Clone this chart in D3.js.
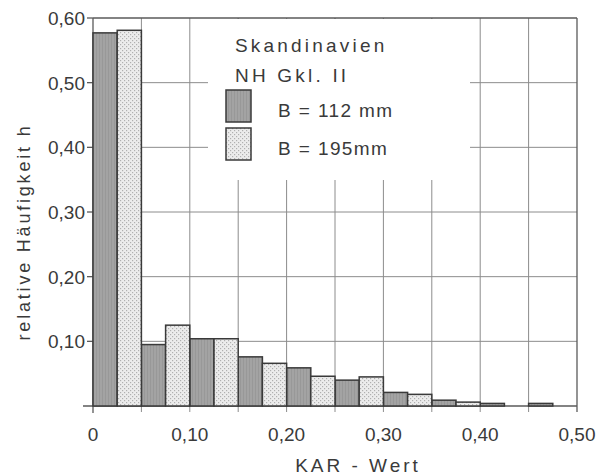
<!DOCTYPE html>
<html>
<head>
<meta charset="utf-8">
<script src="https://cdn.jsdelivr.net/npm/d3@7"></script>
<style>
  body { margin: 0; background: #fff; }
  svg text { font-family: "Liberation Sans", "DejaVu Sans", sans-serif; fill: #3a3a3a; }
</style>
</head>
<body>
<div id="chart"></div>
<script>
// KAR-Wert Klassen (untere Grenze), Breite 0,05
const bins = [0, 0.05, 0.10, 0.15, 0.20, 0.25, 0.30, 0.35, 0.40, 0.45];
const seriesB112 = [0.577, 0.095, 0.104, 0.076, 0.059, 0.040, 0.021, 0.009, 0.004, 0.004];
const seriesB195 = [0.581, 0.125, 0.104, 0.066, 0.046, 0.045, 0.018, 0.006, 0.0, 0.0];
const xTicks = [0, 0.10, 0.20, 0.30, 0.40, 0.50];
const yTicks = [0.10, 0.20, 0.30, 0.40, 0.50, 0.60];
const legendTitle = ["Skandinavien", "NH Gkl. II"];
const legendItems = ["B = 112 mm", "B = 195mm"];

const binWidth = 0.05;
const fmt = v => v === 0 ? "0" : d3.format(".2f")(v).replace(".", ",");

const width = 605, height = 476;
const svg = d3.select("#chart").append("svg")
    .attr("width", width)
    .attr("height", height);

const x = d3.scaleLinear().domain([0, 0.5]).range([93, 577]);
const y = d3.scaleLinear().domain([0, 0.6]).range([406, 18]);

// Muster für die Balken
const defs = svg.append("defs");
const hatch = defs.append("pattern")
    .attr("id", "hatch").attr("patternUnits", "userSpaceOnUse")
    .attr("width", 3).attr("height", 6);
hatch.append("rect").attr("width", 3).attr("height", 6).attr("fill", "#a3a3a3");
hatch.append("line").attr("x1", 0.5).attr("x2", 0.5).attr("y1", 0).attr("y2", 6)
    .attr("stroke", "#989898").attr("stroke-width", 1);

const dots = defs.append("pattern")
    .attr("id", "dots").attr("patternUnits", "userSpaceOnUse")
    .attr("width", 4).attr("height", 4);
dots.append("rect").attr("width", 4).attr("height", 4).attr("fill", "#ececec");
dots.append("rect").attr("x", 0).attr("y", 0).attr("width", 1.2).attr("height", 1.2).attr("fill", "#b0b0b0");
dots.append("rect").attr("x", 2).attr("y", 2).attr("width", 1.2).attr("height", 1.2).attr("fill", "#b0b0b0");

// Gitter
const grid = svg.append("g").attr("stroke", "#8c8c8c").attr("stroke-width", 1);
const vGrid = d3.range(1, 10).map(i => i * binWidth);
grid.selectAll("line.v").data(vGrid).join("line")
    .attr("class", "v")
    .attr("x1", d => x(d)).attr("x2", d => x(d))
    .attr("y1", y(0.6)).attr("y2", y(0) + 6);
grid.selectAll("line.h").data(yTicks.slice(0, -1)).join("line")
    .attr("class", "h")
    .attr("x1", x(0)).attr("x2", x(0.5))
    .attr("y1", d => y(d)).attr("y2", d => y(d));

// Legendenbereich freistellen
svg.append("rect")
    .attr("x", 208).attr("y", y(0.6) + 1)
    .attr("width", 262).attr("height", 161)
    .attr("fill", "#fff");

// kleine Striche am oberen Rand
grid.append("g").selectAll("line").data(vGrid.filter(d => x(d) > 208 && x(d) < 470)).join("line")
    .attr("x1", d => x(d)).attr("x2", d => x(d))
    .attr("y1", y(0.6)).attr("y2", y(0.6) + 6);

// Rahmen
const frame = svg.append("g").attr("stroke", "#5a5a5a").attr("stroke-width", 1.3).attr("fill", "none");
frame.append("line").attr("x1", x(0)).attr("x2", x(0.5)).attr("y1", y(0.6)).attr("y2", y(0.6));
frame.append("line").attr("x1", x(0.5)).attr("x2", x(0.5)).attr("y1", y(0.6)).attr("y2", y(0) + 6);
frame.append("line").attr("x1", x(0)).attr("x2", x(0)).attr("y1", y(0.6)).attr("y2", y(0) + 7);
frame.append("line").attr("x1", x(0) - 10).attr("x2", x(0.5)).attr("y1", y(0)).attr("y2", y(0));
frame.selectAll("line.yt").data(yTicks).join("line")
    .attr("class", "yt")
    .attr("x1", x(0) - 6).attr("x2", x(0))
    .attr("y1", d => y(d)).attr("y2", d => y(d));

// Balken
const half = binWidth / 2;
const bars = svg.append("g").attr("stroke", "#3a3a3a").attr("stroke-width", 1.5);
bars.selectAll("rect.b112").data(bins).join("rect")
    .attr("class", "b112")
    .attr("x", d => x(d))
    .attr("width", x(half) - x(0))
    .attr("y", (d, i) => y(seriesB112[i]))
    .attr("height", (d, i) => y(0) - y(seriesB112[i]))
    .attr("fill", "url(#hatch)");
bars.selectAll("rect.b195").data(bins.filter((d, i) => seriesB195[i] > 0)).join("rect")
    .attr("class", "b195")
    .attr("x", d => x(d + half))
    .attr("width", x(half) - x(0))
    .attr("y", d => y(seriesB195[bins.indexOf(d)]))
    .attr("height", d => y(0) - y(seriesB195[bins.indexOf(d)]))
    .attr("fill", "url(#dots)");

// Achsenbeschriftung
svg.append("g").selectAll("text").data(xTicks).join("text")
    .attr("x", d => x(d))
    .attr("y", 441)
    .attr("text-anchor", "middle")
    .style("font-size", "19px")
    .text(fmt);
svg.append("g").selectAll("text").data(yTicks).join("text")
    .attr("x", 85)
    .attr("y", d => y(d) + 7)
    .attr("text-anchor", "end")
    .style("font-size", "19px")
    .text(fmt);

svg.append("text")
    .attr("x", 358).attr("y", 472)
    .attr("text-anchor", "middle")
    .style("font-size", "19px")
    .style("letter-spacing", "3px")
    .text("KAR - Wert");
svg.append("text")
    .attr("transform", "translate(30,232) rotate(-90)")
    .attr("text-anchor", "middle")
    .style("font-size", "18px")
    .style("letter-spacing", "2.8px")
    .text("relative Häufigkeit  h");

// Legende
const legend = svg.append("g");
legend.selectAll("text.title").data(legendTitle).join("text")
    .attr("class", "title")
    .attr("x", 235)
    .attr("y", (d, i) => 52 + i * 30)
    .style("font-size", "19px")
    .style("letter-spacing", "3.2px")
    .text(d => d);
const fills = ["url(#hatch)", "url(#dots)"];
legend.selectAll("rect").data(legendItems).join("rect")
    .attr("x", 226)
    .attr("y", (d, i) => 90 + i * 38)
    .attr("width", 25).attr("height", 32)
    .attr("fill", (d, i) => fills[i])
    .attr("stroke", "#3a3a3a").attr("stroke-width", 1.5);
legend.selectAll("text.item").data(legendItems).join("text")
    .attr("class", "item")
    .attr("x", 278)
    .attr("y", (d, i) => 117 + i * 38)
    .style("font-size", "19px")
    .style("letter-spacing", "1.4px")
    .text(d => d);
</script>
</body>
</html>
